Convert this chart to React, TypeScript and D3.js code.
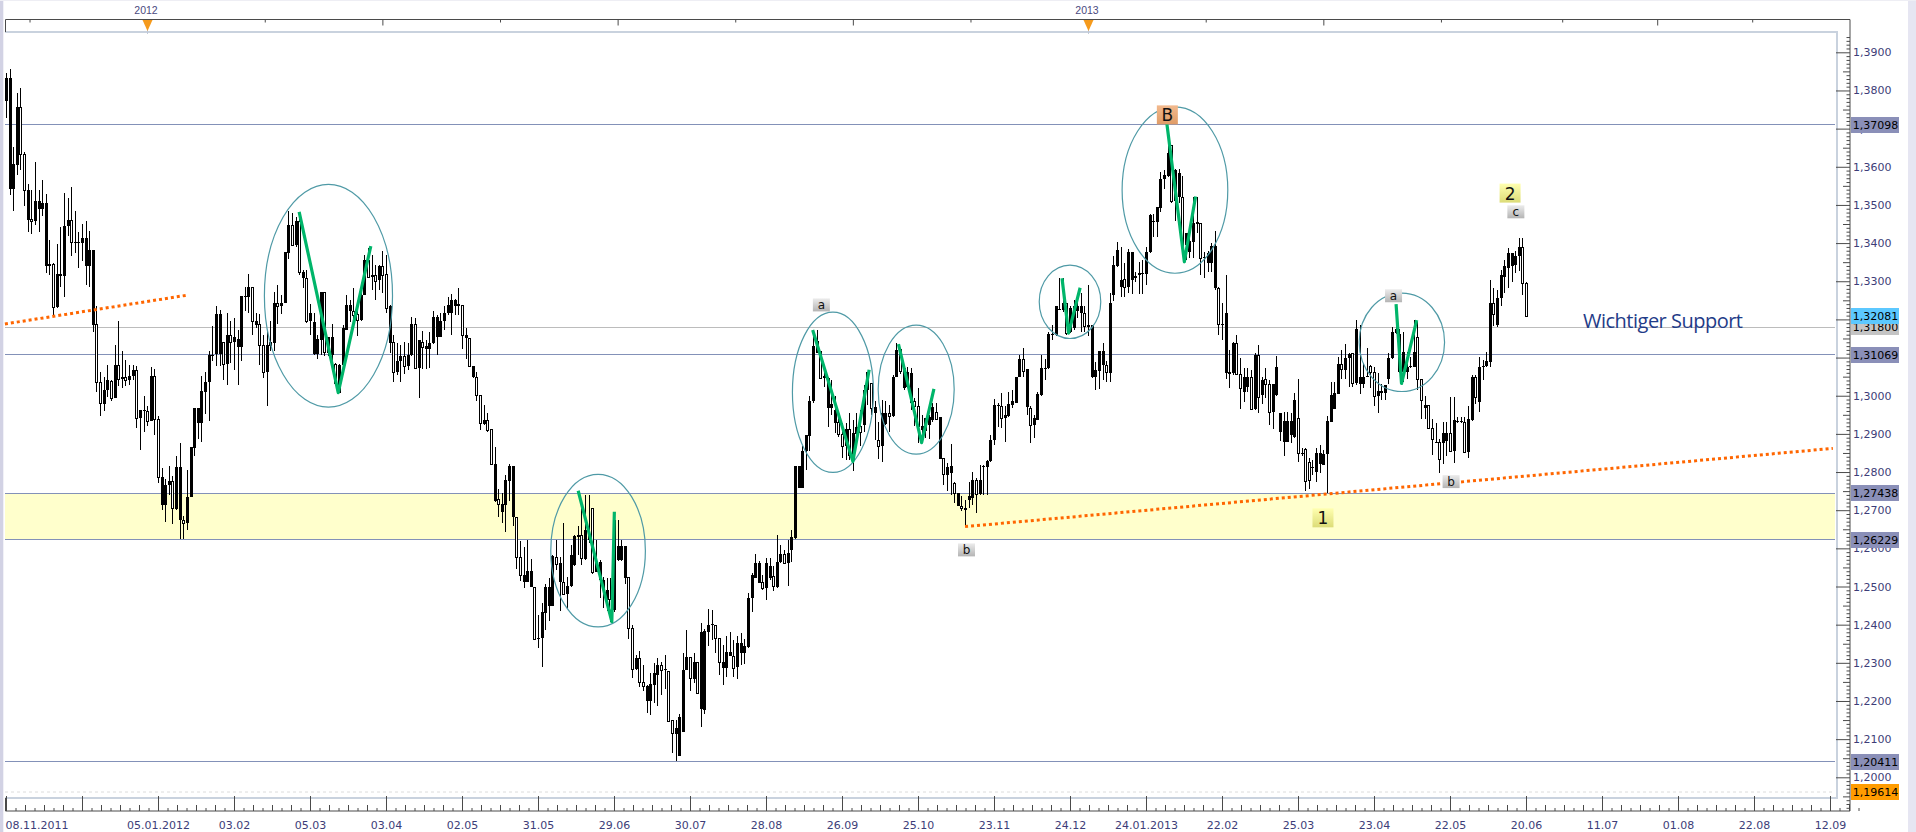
import React, { useEffect, useRef } from "react";
import * as d3 from "d3";

// prices are kept in pips (13832 = 1,3832), one row = 10 candles
const opens = [
  13773,13541,13541,13605,13756,13633,13461,13463,13457,13489,
  13489,13341,13341,13345,13232,13315,13315,13444,13460,13399,
  13399,13401,13339,13339,13186,13188,13036,12979,13014,13039,
  12993,13081,13045,13050,13040,13051,13067,12941,12959,12961,
  12933,13052,12939,12713,12713,12765,12776,12704,12673,12673,
  12666,12734,12862,12928,12928,13011,13035,13103,13110,13110,
  13142,13083,13160,13142,13127,13127,13258,13258,13286,13186,
  13187,13132,13063,13129,13139,13242,13234,13244,13373,13447,
  13396,13457,13308,13308,13197,13109,13110,13146,13271,13111,
  13107,13083,13008,13081,13171,13221,13221,13213,13199,13264,
  13356,13310,13316,13302,13340,13319,13138,13140,13063,13090,
  13104,13079,13107,13187,13072,13140,13122,13122,13138,13155,
  13155,13197,13216,13216,13235,13235,13237,13151,13151,13049,
  13049,13003,12926,12937,12912,12725,12729,12696,12714,12777,
  12681,12681,12578,12513,12513,12500,12500,12363,12365,12430,
  12450,12450,12578,12513,12513,12480,12502,12557,12631,12635,
  12572,12622,12705,12537,12517,12491,12465,12467,12439,12570,
  12570,12522,12524,12391,12283,12312,12249,12201,12201,12242,
  12269,12295,12280,12279,12151,12114,12056,12118,12282,12315,
  12257,12302,12179,12177,12382,12398,12399,12365,12287,12286,
  12317,12317,12288,12325,12325,12341,12469,12523,12509,12511,
  12496,12522,12528,12500,12564,12585,12561,12596,12627,12757,
  12757,12854,12895,12985,13111,13116,13046,12967,12967,12928,
  12931,12899,12869,12912,12829,12900,12921,12924,13014,13033,
  12954,12884,12869,12925,12954,12948,13050,13122,13020,13022,
  12980,12987,12972,12911,12908,12924,12937,12957,12834,12836,
  12793,12797,12771,12711,12712,12707,12727,12733,12780,12742,
  12812,12814,12828,12883,12972,12972,12941,12947,12976,12980,
  13048,13096,12970,12969,12924,12937,13003,13069,13072,13159,
  13159,13225,13225,13242,13168,13177,13223,13216,13216,13181,
  13048,13048,13066,13081,13081,13059,13264,13341,13286,13305,
  13286,13303,13308,13316,13318,13318,13376,13454,13456,13491,
  13567,13576,13657,13509,13520,13520,13395,13376,13404,13450,
  13452,13360,13349,13349,13282,13282,13185,13059,13057,13059,
  13137,13056,13011,13024,13048,12964,13107,13002,13045,13032,
  12958,13002,12906,12880,12880,12897,12893,12941,12847,12860,
  12827,12810,12801,12820,12818,12846,12932,12965,13004,13082,
  13067,13100,13111,13034,13032,13031,13048,13078,13063,13000,
  13013,13008,13043,13098,13165,13063,13063,13063,13074,13076,
  13153,13043,12969,12976,12916,12875,12880,12875,12881,12903,
  12856,12930,12930,12930,12853,12936,13048,12984,13074,13078,
  13089,13244,13185,13256,13312,13336,13341,13343,13365,13391,
  13295,
];
const highs = [
  13845,13856,13651,13793,13806,13638,13555,13538,13612,13540,
  13566,13528,13409,13347,13398,13441,13531,13518,13548,13485,
  13428,13450,13457,13432,13382,13234,13063,13048,13081,13042,
  13132,13196,13118,13094,13081,13081,13079,12963,12998,12972,
  13075,13071,12946,12811,12782,12817,12789,12843,12876,12686,
  12806,12866,12968,12968,13051,13061,13118,13183,13234,13225,
  13142,13217,13195,13203,13173,13262,13285,13320,13286,13216,
  13214,13159,13173,13197,13273,13290,13264,13376,13484,13478,
  13469,13482,13330,13330,13241,13218,13159,13273,13273,13155,
  13188,13087,13083,13186,13264,13251,13282,13234,13290,13369,
  13386,13369,13343,13343,13379,13369,13238,13159,13138,13133,
  13142,13138,13207,13203,13146,13170,13146,13168,13222,13212,
  13218,13234,13260,13266,13253,13282,13237,13177,13151,13079,
  13062,13003,12976,12954,12912,12865,12755,12744,12792,12821,
  12816,12681,12618,12603,12622,12571,12500,12426,12456,12507,
  12522,12583,12622,12578,12666,12526,12609,12635,12659,12727,
  12740,12740,12705,12622,12570,12526,12522,12522,12674,12674,
  12622,12606,12524,12398,12321,12330,12295,12242,12273,12299,
  12312,12301,12321,12279,12151,12151,12166,12325,12386,12315,
  12325,12303,12404,12388,12441,12439,12399,12365,12347,12369,
  12382,12360,12369,12378,12363,12484,12535,12585,12568,12530,
  12576,12574,12554,12635,12609,12596,12622,12648,12816,12816,
  12867,12897,12998,13172,13171,13116,13068,13050,13041,12998,
  12954,12928,12928,12956,12937,12954,12963,13028,13063,13033,
  12985,12932,12989,12985,12976,13055,13137,13124,13081,13076,
  13072,12993,13020,12950,12941,12950,12980,12980,12944,12836,
  12823,12874,12775,12746,12736,12727,12775,12799,12784,12819,
  12819,12832,12897,12991,12980,13007,12972,13011,13015,13050,
  13107,13124,13069,12972,12950,13011,13107,13096,13168,13186,
  13235,13308,13308,13242,13234,13251,13251,13268,13234,13290,
  13186,13089,13117,13137,13092,13268,13365,13402,13391,13347,
  13384,13376,13325,13351,13356,13391,13476,13476,13495,13587,
  13591,13666,13657,13593,13593,13576,13426,13421,13522,13522,
  13452,13376,13378,13399,13432,13286,13242,13316,13120,13141,
  13159,13098,13072,13072,13067,13113,13133,13050,13072,13041,
  13032,13104,12956,12958,12958,12954,13006,13045,12862,12862,
  12836,12832,12862,12871,12858,12947,13037,13037,13102,13120,
  13135,13113,13113,13198,13185,13085,13124,13080,13074,13059,
  13032,13028,13113,13181,13238,13176,13168,13115,13102,13198,
  13194,13045,12999,12976,12938,12928,12886,12932,12932,12997,
  12996,12945,12945,12945,12973,13054,13054,13102,13093,13115,
  13303,13281,13278,13330,13356,13387,13374,13378,13413,13413,
  13297,
];
const lows = [
  13727,13526,13485,13579,13592,13498,13430,13423,13448,13430,
  13470,13321,13317,13212,13230,13286,13260,13419,13365,13375,
  13336,13352,13291,13284,13166,13011,12946,12959,12997,12985,
  12993,13026,13019,13026,13029,13042,12915,12859,12904,12920,
  12933,12898,12770,12700,12668,12741,12663,12700,12625,12625,
  12649,12734,12841,12887,12878,12953,12933,13092,13079,13079,
  13042,13027,13087,13068,13029,13090,13223,13217,13159,13177,
  13081,13046,12974,13116,13116,13188,13214,13242,13358,13393,
  13391,13317,13283,13190,13159,13106,13096,13107,13103,13103,
  13081,13028,13007,13077,13171,13194,13188,13157,13197,13264,
  13312,13277,13251,13277,13270,13216,13113,13037,13055,13035,
  13057,13068,13104,13072,12995,13070,13070,13072,13136,13107,
  13153,13172,13212,13159,13212,13212,13123,13097,13077,13046,
  12985,12911,12924,12906,12818,12722,12683,12666,12644,12725,
  12659,12546,12515,12497,12513,12500,12360,12338,12288,12386,
  12410,12448,12542,12436,12480,12440,12500,12554,12583,12557,
  12570,12613,12533,12537,12471,12443,12436,12408,12434,12568,
  12567,12507,12363,12260,12282,12236,12225,12168,12162,12194,
  12187,12216,12231,12144,12063,12042,12055,12118,12282,12225,
  12247,12219,12133,12166,12343,12360,12327,12269,12242,12262,
  12317,12264,12257,12295,12297,12338,12432,12522,12509,12491,
  12465,12517,12487,12496,12561,12559,12502,12563,12624,12757,
  12757,12806,12856,12982,13111,13043,13024,12919,12950,12902,
  12891,12836,12832,12832,12804,12867,12867,12906,12976,12950,
  12883,12834,12825,12924,12906,12945,13048,13057,13015,13020,
  12963,12921,12876,12876,12889,12886,12932,12937,12834,12766,
  12749,12740,12718,12710,12697,12662,12705,12714,12692,12740,
  12740,12740,12825,12870,12917,12915,12880,12944,12967,12980,
  13048,13048,12950,12877,12889,12937,13000,13041,13069,13145,
  13157,13225,13220,13159,13164,13172,13203,13168,13168,13157,
  13046,13015,13017,13040,13037,13037,13249,13338,13258,13258,
  13268,13267,13299,13267,13267,13290,13373,13417,13415,13482,
  13543,13574,13506,13459,13504,13386,13356,13360,13362,13426,
  13316,13308,13323,13323,13277,13159,13146,13045,13019,13054,
  13054,12965,12984,13011,12963,12963,12956,12978,12993,12923,
  12912,13000,12881,12843,12880,12875,12888,12827,12842,12751,
  12755,12791,12773,12798,12818,12744,12932,12965,13004,13045,
  13045,13024,13024,13028,13004,13019,13048,13019,12973,12956,
  12989,12990,13032,13095,13163,13060,13037,13045,13072,13074,
  13015,12938,12938,12915,12845,12875,12797,12820,12843,12853,
  12823,12928,12928,12851,12836,12935,12978,12958,13041,13074,
  13074,13183,13181,13234,13269,13282,13299,13321,13328,13264,
  13208,
];
const closes = [
  13832,13832,13608,13756,13633,13538,13538,13457,13510,13510,
  13505,13505,13346,13232,13320,13320,13445,13461,13404,13404,
  13403,13414,13414,13382,13382,13035,12981,13016,13042,12993,
  13081,13045,13050,13040,13052,13068,12941,12962,12962,12933,
  13052,12939,12786,12786,12767,12776,12706,12813,12813,12666,
  12735,12866,12968,12968,13012,13037,13106,13107,13214,13214,
  13083,13160,13142,13155,13148,13262,13262,13285,13197,13197,
  13132,13063,13132,13140,13242,13234,13244,13376,13447,13396,
  13457,13324,13325,13197,13216,13194,13148,13273,13115,13155,
  13155,13033,13081,13177,13237,13237,13212,13199,13264,13356,
  13312,13317,13301,13340,13317,13231,13234,13063,13090,13104,
  13079,13107,13187,13072,13146,13127,13129,13138,13206,13207,
  13197,13216,13238,13251,13251,13240,13159,13159,13077,13079,
  13003,12928,12937,12911,12820,12821,12715,12716,12779,12816,
  12816,12578,12529,12530,12541,12541,12363,12366,12433,12500,
  12500,12581,12558,12561,12480,12502,12583,12633,12635,12574,
  12648,12635,12537,12565,12565,12517,12491,12439,12674,12605,
  12606,12606,12391,12283,12312,12249,12238,12240,12244,12273,
  12294,12280,12283,12148,12116,12129,12158,12282,12315,12260,
  12303,12222,12382,12384,12399,12401,12364,12301,12301,12328,
  12328,12286,12351,12351,12343,12469,12530,12561,12561,12495,
  12561,12554,12502,12565,12585,12561,12587,12629,12816,12816,
  12856,12897,12986,13131,13144,13046,13052,13046,12979,12963,
  12899,12869,12912,12845,12902,12919,12904,13015,13063,12967,
  12970,12869,12954,12954,12948,13050,13120,13066,13072,13063,
  13059,12972,12921,12921,12941,12944,12970,12940,12944,12794,
  12812,12815,12746,12746,12707,12703,12736,12780,12742,12780,
  12816,12829,12884,12976,12976,12941,12950,12979,12985,13050,
  13096,13066,13069,12924,12941,13005,13072,13072,13162,13162,
  13234,13227,13244,13164,13229,13234,13235,13235,13183,13186,
  13186,13068,13117,13117,13061,13242,13343,13382,13303,13286,
  13376,13376,13314,13321,13321,13376,13474,13458,13494,13567,
  13578,13635,13511,13591,13583,13391,13426,13406,13452,13456,
  13360,13364,13373,13393,13393,13187,13188,13216,13061,13139,
  13056,13019,13048,13048,12964,13107,12997,13041,13032,12958,
  13031,13074,12956,12935,12935,12935,12989,12851,12851,12777,
  12779,12814,12849,12849,12847,12934,13002,13006,13082,13069,
  13100,13109,13034,13175,13050,13050,13052,13063,13000,13013,
  13009,13028,13098,13166,13175,13163,13115,13076,13078,13115,
  13043,12990,12976,12916,12886,12880,12833,12903,12903,12856,
  12936,12934,12935,12853,12938,13048,12996,13074,13078,13091,
  13244,13213,13255,13317,13339,13375,13374,13367,13391,13295,
  13208,
];

// one date every 21 candles, the second one is not printed on the axis
const dateLabels = ["08.11.2011","","05.01.2012","03.02","05.03","03.04","02.05","31.05","29.06","30.07","28.08","26.09","25.10","23.11","24.12","24.01.2013","22.02","25.03","23.04","22.05","20.06","11.07","01.08","22.08","12.09"];
const candlesPerDate = 21;
const yearMarks = [{ label: "2012", index: 39 }, { label: "2013", index: 299 }];
const topTicks = [6.5, 71.5, 136.5, 201.5, 266.5, 331.5, 396.5, 430, 482.5];
const topLongTicks = [104, 169, 234, 364, 456.25];

const priceLevels = [1.37098, 1.31069, 1.27438, 1.26229, 1.20411];
const greyLevel = 1.318;
const lowMark = 1.19614;
const zoneTop = 1.27438;
const zoneBottom = 1.26229;
const tags = [
  { value: 1.37098, fill: "#8a8fb8" },
  { value: 1.318, fill: "#c4c4c4" },
  { value: 1.32081, fill: "#5cc8ff" },
  { value: 1.31069, fill: "#8a8fb8" },
  { value: 1.27438, fill: "#8a8fb8" },
  { value: 1.26229, fill: "#8a8fb8" },
  { value: 1.20411, fill: "#8a8fb8" },
  { value: 1.19614, fill: "#ff9c00" },
];

// [candle index, pips]
const greenSwings = [
  [[81, 13482], [91.8, 13008], [100.8, 13392]],
  [[158.1, 12751], [167.4, 12408], [168.1, 12696]],
  [[222.9, 13172], [234, 12828], [238.5, 13068]],
  [[246.6, 13135], [253, 12877], [256.4, 13018]],
  [[291.8, 13308], [293.6, 13164], [296.8, 13283]],
  [[320.7, 13718], [325.6, 13351], [328.7, 13522]],
  [[384.1, 13240], [385.6, 13032], [389.8, 13198]],
];
// centre index, centre pips, radius in candles, radius in pips
const circles = [
  [89.1, 13262, 17.7, 292],
  [163.6, 12594, 13.07, 200],
  [228.5, 13009, 11.2, 210],
  [251.5, 13016, 10.5, 169],
  [294, 13246, 8.5, 96],
  [323, 13539, 14.6, 218],
  [385.7, 13140, 11.8, 129],
];
const trendLines = [
  [[-0.3, 13188], [50.4, 13264]],
  [[265, 12657], [504.8, 12862]],
];
const smallLabels = [
  { text: "a", index: 225.3, pips: 13238 },
  { text: "b", index: 265.4, pips: 12596 },
  { text: "b", index: 399.3, pips: 12775 },
  { text: "a", index: 383.4, pips: 13262 },
  { text: "c", index: 417.2, pips: 13482 },
];
const waveLabels = [
  { text: "1", index: 363.9, pips: 12680, grad: "waveYellow" },
  { text: "2", index: 415.6, pips: 13531, grad: "waveYellow" },
  { text: "B", index: 320.9, pips: 13736, grad: "waveOrange" },
];
const supportLabel = "Wichtiger Support";

const FONT = "'DejaVu Sans', sans-serif";

export default function App() {
  const svgRef = useRef<SVGSVGElement>(null);

  useEffect(() => {
    const svg = d3.select(svgRef.current);
    svg.selectAll("*").remove();

    const width = 1916;
    const height = 832;
    const left = 5;
    const plotRight = 1835;
    const plotTop = 32;
    const plotBottom = 798;
    const axisRight = 1850;
    const axisTop = 19.5;
    const axisBottom = 811;

    const x = d3.scaleLinear().domain([0, 420]).range([6, 1526]);
    const y = d3.scaleLinear().domain([1.39, 1.2]).range([52.3, 777.3]);
    const yp = (p: number) => y(p / 10000);

    const defs = svg.append("defs");
    const gradient = (id: string, a: string, b: string) => {
      const g = defs.append("linearGradient").attr("id", id).attr("x1", 0).attr("y1", 0).attr("x2", 0).attr("y2", 1);
      g.append("stop").attr("offset", "0%").attr("stop-color", a);
      g.append("stop").attr("offset", "100%").attr("stop-color", b);
    };
    gradient("smallGrey", "#ececec", "#b4b4b4");
    gradient("waveYellow", "#ffffb0", "#dcdc78");
    gradient("waveOrange", "#f2b98e", "#e09c66");

    // window frame
    svg.append("rect").attr("width", width).attr("height", height).attr("fill", "#ffffff");
    svg.append("rect").attr("width", 3.3).attr("height", height).attr("fill", "#d2d2e4");
    svg.append("rect").attr("x", 1908).attr("width", 8).attr("height", height).attr("fill", "#e6e6f2");
    svg.append("rect").attr("width", width).attr("height", 1).attr("fill", "#eeeef4");

    // yellow zone and horizontal levels
    svg.append("rect").attr("x", left).attr("width", plotRight - left)
      .attr("y", y(zoneTop)).attr("height", y(zoneBottom) - y(zoneTop)).attr("fill", "#ffffcc");
    svg.append("line").attr("x1", left).attr("x2", plotRight).attr("y1", y(lowMark)).attr("y2", y(lowMark))
      .attr("stroke", "#dcdcdc").attr("stroke-dasharray", "3 3");
    svg.append("line").attr("x1", left).attr("x2", plotRight).attr("y1", Math.floor(y(greyLevel)) + 0.5).attr("y2", Math.floor(y(greyLevel)) + 0.5)
      .attr("stroke", "#bcbcbc");
    svg.selectAll(".level").data(priceLevels).join("line")
      .attr("x1", left).attr("x2", plotRight)
      .attr("y1", (d) => Math.floor(y(d)) + 0.5).attr("y2", (d) => Math.floor(y(d)) + 0.5)
      .attr("stroke", "#8391b8");

    // candles, black = up, hollow = down
    const candles = svg.append("g");
    opens.forEach((open, i) => {
      const cx = Math.round(x(i));
      const top = Math.round(yp(Math.max(open, closes[i])));
      const bottom = Math.max(top + 1, Math.round(yp(Math.min(open, closes[i]))));
      candles.append("rect").attr("x", cx).attr("width", 1)
        .attr("y", Math.round(yp(highs[i]))).attr("height", Math.max(1, Math.round(yp(lows[i])) - Math.round(yp(highs[i]))))
        .attr("fill", "#000");
      if (closes[i] >= open) {
        candles.append("rect").attr("x", cx - 1).attr("width", 3).attr("y", top).attr("height", bottom - top).attr("fill", "#000");
      } else {
        candles.append("rect").attr("x", cx - 0.5).attr("width", 2).attr("y", top + 0.5).attr("height", bottom - top)
          .attr("fill", "#fff").attr("stroke", "#000");
      }
    });

    // dotted trend lines
    const line = d3.line<number[]>().x((d) => x(d[0])).y((d) => yp(d[1]));
    svg.selectAll(".trend").data(trendLines).join("path")
      .attr("d", (d) => line(d))
      .attr("fill", "none").attr("stroke", "#ff6600").attr("stroke-width", 3).attr("stroke-dasharray", "3 3");

    // circles and green swings
    svg.selectAll(".circle").data(circles).join("ellipse")
      .attr("cx", (d) => x(d[0])).attr("cy", (d) => yp(d[1]))
      .attr("rx", (d) => x(d[2]) - x(0)).attr("ry", (d) => yp(13000 - d[3]) - yp(13000))
      .attr("fill", "none").attr("stroke", "#4f9aa6").attr("stroke-width", 1.2);
    svg.selectAll(".swing").data(greenSwings).join("path")
      .attr("d", (d) => line(d))
      .attr("fill", "none").attr("stroke", "#00b56a").attr("stroke-width", 3.2).attr("stroke-linejoin", "round");

    // plot border
    const border = "#c9d2de";
    svg.append("rect").attr("x", left).attr("y", plotTop - 1).attr("width", plotRight + 3 - left).attr("height", 2).attr("fill", border);
    svg.append("rect").attr("x", left).attr("y", plotBottom - 1).attr("width", plotRight + 3 - left).attr("height", 2).attr("fill", border);
    svg.append("rect").attr("x", plotRight + 1).attr("y", plotTop - 1).attr("width", 2).attr("height", plotBottom - plotTop + 2).attr("fill", border);

    // dark outer frame
    const dark = "#4a4a4a";
    svg.append("path")
      .attr("d", `M${left + 0.5},${plotTop}V${axisTop}H${axisRight}V${axisBottom}H${left + 0.5}V${plotBottom}`)
      .attr("fill", "none").attr("stroke", dark);

    // top ticks and year markers
    [{ values: topTicks, size: 3 }, { values: topLongTicks, size: 6 }].forEach(({ values, size }) => {
      const g = svg.append("g").attr("transform", `translate(0,${axisTop})`)
        .call(d3.axisBottom(x).tickValues(values).tickSize(size).tickFormat(() => ""));
      g.select(".domain").remove();
      g.selectAll("line").attr("stroke", dark);
    });
    yearMarks.forEach((m) => {
      const mx = Math.round(x(m.index)) + 0.5;
      svg.append("line").attr("x1", mx).attr("x2", mx).attr("y1", 20).attr("y2", 34).attr("stroke", "#c0c8d8");
      svg.append("path").attr("d", `M${mx - 5},20H${mx + 5}L${mx},31Z`).attr("fill", "#f59a1c");
      svg.append("text").attr("x", mx - 1.5).attr("y", 14).attr("text-anchor", "middle")
        .attr("font-family", "'Liberation Sans', sans-serif").attr("font-size", 10.5).attr("fill", "#4a4a80").text(m.label);
    });

    // date axis
    const dateValues = dateLabels.map((_, k) => k * candlesPerDate);
    const bottomAxis = d3.axisBottom(x).tickValues(dateValues).tickSize(15).tickPadding(10)
      .tickFormat((_, k) => dateLabels[k]);
    const dateG = svg.append("g").attr("transform", `translate(0,796)`).call(bottomAxis);
    dateG.select(".domain").remove();
    dateG.selectAll("line").attr("stroke", dark);
    dateG.selectAll("text").attr("font-family", FONT).attr("font-size", 11).attr("fill", "#3d3d78");
    dateG.selectAll("text").filter((_, k) => k === 0).attr("text-anchor", "start").attr("x", -1);

    const minorDates = d3.range(0, 24 * 8 + 4).filter((k) => k % 8 !== 0).map((k) => (k * candlesPerDate) / 8);
    const shortDates = minorDates.filter((_, k) => (Math.round((minorDates[k] * 8) / candlesPerDate)) % 2 === 1);
    const tallDates = minorDates.filter((_, k) => (Math.round((minorDates[k] * 8) / candlesPerDate)) % 2 === 0);
    [{ values: shortDates, size: 3 }, { values: tallDates, size: 6 }].forEach(({ values, size }) => {
      const g = svg.append("g").attr("transform", `translate(0,${axisBottom - size})`)
        .call(d3.axisBottom(x).tickValues(values).tickSize(size).tickFormat(() => ""));
      g.select(".domain").remove();
      g.selectAll("line").attr("stroke", dark);
    });

    // price axis
    const majorPrices = d3.range(120, 140).map((v) => v / 100);
    const priceAxis = d3.axisRight(y).tickValues(majorPrices).tickSize(14).tickPadding(3)
      .tickFormat((d) => (d as number).toFixed(4).replace(".", ","));
    const priceG = svg.append("g").attr("transform", `translate(1836,0)`).call(priceAxis);
    priceG.select(".domain").remove();
    priceG.selectAll("line").attr("stroke", dark);
    priceG.selectAll("text").attr("font-family", FONT).attr("font-size", 11).attr("fill", "#3d3d78");

    const minorPrices = d3.range(1192, 1395).filter((k) => k % 10 !== 0).map((k) => k / 1000);
    const smallPrices = minorPrices.filter((v) => Math.round(v * 1000) % 5 !== 0);
    const midPrices = minorPrices.filter((v) => Math.round(v * 1000) % 5 === 0);
    [{ values: smallPrices, size: 3.5 }, { values: midPrices, size: 7 }].forEach(({ values, size }) => {
      const g = svg.append("g").attr("transform", `translate(${axisRight - size},0)`)
        .call(d3.axisRight(y).tickValues(values).tickSize(size).tickFormat(() => ""));
      g.select(".domain").remove();
      g.selectAll("line").attr("stroke", dark);
    });

    // price tags
    const tagG = svg.append("g").selectAll("g").data(tags).join("g")
      .attr("transform", (d) => `translate(1851,${Math.round(y(d.value)) - 8})`);
    tagG.append("rect").attr("width", 48).attr("height", 16).attr("fill", (d) => d.fill);
    tagG.append("text").attr("x", 1.7).attr("y", 12).attr("font-family", FONT).attr("font-size", 11).attr("fill", "#000")
      .text((d) => d.value.toFixed(5).replace(".", ","));

    // wave labels
    const small = svg.append("g").selectAll("g").data(smallLabels).join("g")
      .attr("transform", (d) => `translate(${x(d.index)},${yp(d.pips)})`);
    small.append("rect").attr("x", -8.5).attr("y", -6.5).attr("width", 17).attr("height", 13).attr("fill", "url(#smallGrey)");
    small.append("text").attr("text-anchor", "middle").attr("y", 4.5).attr("font-family", FONT).attr("font-size", 12).attr("fill", "#111").text((d) => d.text);

    const wave = svg.append("g").selectAll("g").data(waveLabels).join("g")
      .attr("transform", (d) => `translate(${x(d.index)},${yp(d.pips)})`);
    wave.append("rect").attr("x", -10.5).attr("y", -9.5).attr("width", 21).attr("height", 19).attr("fill", (d) => `url(#${d.grad})`);
    wave.append("text").attr("text-anchor", "middle").attr("y", 6.5).attr("font-family", FONT).attr("font-size", 17).attr("fill", "#111").text((d) => d.text);

    svg.append("text").attr("x", 1583).attr("y", 328).attr("textLength", 160)
      .attr("font-family", "'Open Sans', sans-serif").attr("font-size", 20).attr("fill", "#1f3c88").text(supportLabel);
  }, []);

  return <svg ref={svgRef} width={1916} height={832} style={{ position: "absolute", left: 0, top: 0 }} />;
}
